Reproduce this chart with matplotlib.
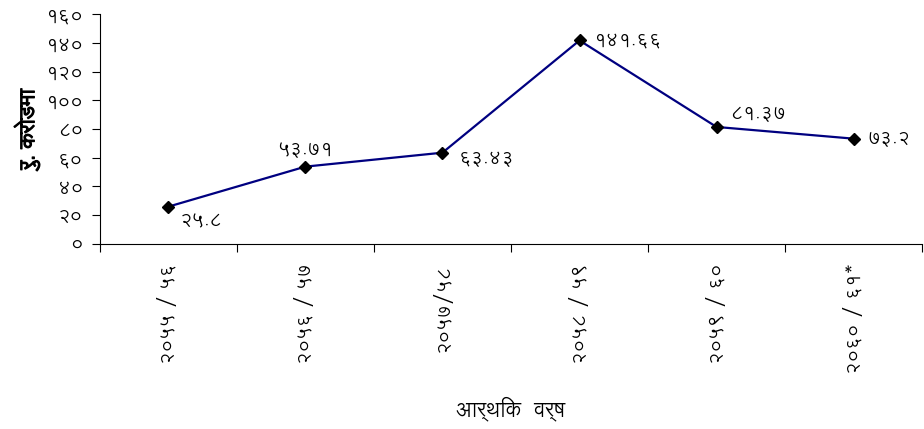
import matplotlib
matplotlib.use("Agg")
import matplotlib.pyplot as plt
import matplotlib.patheffects as pe
from matplotlib import font_manager

# data
years = ["२०५५ / ५६", "२०५६ / ५७", "२०५७/५८", "२०५८ / ५९", "२०५९ / ६०", "२०६० / ६१*"]
values = [25.8, 53.71, 63.43, 141.66, 81.37, 73.2]
value_labels = ["२५.८", "५३.७१", "६३.४३", "१४१.६६", "८१.३७", "७३.२"]
yticks = [0, 20, 40, 60, 80, 100, 120, 140, 160]
ytick_labels = ["०", "२०", "४०", "६०", "८०", "१००", "१२०", "१४०", "१६०"]

# pick a font that has Devanagari
names = {f.name for f in font_manager.fontManager.ttflist}
deva = "DejaVu Sans"
for cand in ["Lohit Devanagari", "FreeSans", "Noto Sans Devanagari", "Mukta"]:
    if cand in names:
        deva = cand
        break
plt.rcParams['font.family'] = [deva, 'DejaVu Sans']

fig = plt.figure(figsize=(9.24, 4.29), dpi=100)
ax = fig.add_axes([0.108, 0.432, 0.89, 0.535])

x = list(range(len(values)))
ax.plot(x, values, color="#000080", lw=1.6, marker="D", ms=6,
        mfc="black", mec="black", zorder=3)

# data labels (offsets in points)
offs = [(8, -10), (-20, 12), (12, -4), (10, 0), (10, 10), (10, 0)]
for xi, v, lab, (dx, dy) in zip(x, values, value_labels, offs):
    ax.annotate(lab, (xi, v), xytext=(dx, dy), textcoords="offset points",
                fontsize=14, va="center", ha="left")

ax.set_xlim(-0.5, len(values) - 0.5)
ax.set_ylim(0, 160)
ax.set_yticks(yticks)
ax.set_yticklabels(ytick_labels, fontsize=14)
ax.set_xticks([i - 0.5 for i in range(len(values) + 1)])
ax.set_xticklabels([])
ax.set_xticks(x, minor=True)
ax.set_xticklabels(years, minor=True, rotation=90, fontsize=14)
ax.tick_params(axis="x", which="minor", length=0, pad=14)
ax.tick_params(axis="x", which="major", length=6, direction="out")
ax.tick_params(axis="y", length=6, direction="out", pad=6)

for s in ["top", "right"]:
    ax.spines[s].set_visible(False)

# bold look for the y label (font has no bold face)
yl = ax.set_ylabel("रु. करोडमा", fontsize=15, labelpad=4)
yl.set_path_effects([pe.withStroke(linewidth=0.9, foreground="black")])
ax.set_xlabel("आर्थिक  वर्ष", fontsize=15, labelpad=16)

fig.savefig("out.png")
